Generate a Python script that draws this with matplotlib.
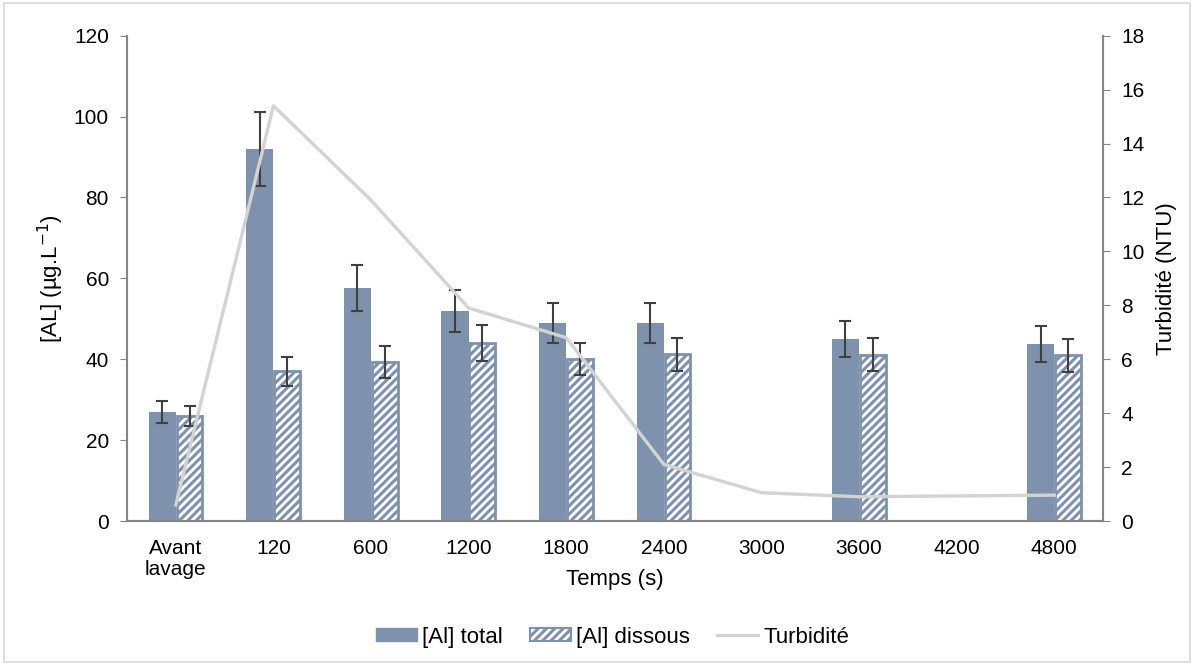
import numpy as np
import matplotlib
matplotlib.use("Agg")
import matplotlib.pyplot as plt
from matplotlib.patches import Rectangle
from matplotlib.lines import Line2D

plt.rcParams['font.family'] = ['Liberation Sans', 'DejaVu Sans']
plt.rcParams['hatch.linewidth'] = 2.2

# Data
categories = ["Avant\nlavage", "120", "600", "1200", "1800", "2400", "3000", "3600", "4200", "4800"]
al_total = [27, 92, 57.7, 52, 49, 49, np.nan, 45, np.nan, 43.8]
al_total_err = [2.7, 9.2, 5.7, 5.2, 4.9, 4.9, np.nan, 4.5, np.nan, 4.4]
al_dissous = [26, 37, 39.3, 44, 40, 41.2, np.nan, 41.1, np.nan, 41]
al_dissous_err = [2.5, 3.6, 4.0, 4.4, 4.0, 4.1, np.nan, 4.1, np.nan, 4.1]
turbidite = [0.6, 15.4, 11.9, 7.9, 6.8, 2.1, 1.05, 0.9, 0.93, 0.96]

bar_color = "#7F92AD"
line_color = "#D3D3D3"
err_color = "#404040"
axis_color = "#868686"
tick_size = 15
label_size = 16

fig = plt.figure(figsize=(11.94, 6.66), dpi=100)
ax = fig.add_axes([0.1064, 0.2177, 0.8174, 0.7287])
ax2 = ax.twinx()

x = np.arange(len(categories))
w = 0.28

ax.bar(x - w / 2, al_total, w, color=bar_color, edgecolor=bar_color, linewidth=0, zorder=2)
ax.bar(x + w / 2, al_dissous, w * 0.95, color="white", edgecolor=bar_color,
       hatch="////", linewidth=2, zorder=2)
ax.errorbar(x - w / 2, al_total, yerr=al_total_err, fmt="none", ecolor=err_color,
            elinewidth=1.5, capsize=4.5, capthick=1.5, zorder=3)
ax.errorbar(x + w / 2, al_dissous, yerr=al_dissous_err, fmt="none", ecolor=err_color,
            elinewidth=1.5, capsize=4.5, capthick=1.5, zorder=3)

ax2.plot(x, turbidite, color=line_color, linewidth=2.4, zorder=4)

ax.set_xlim(-0.5, len(categories) - 0.5)
ax.set_ylim(0, 120)
ax.set_yticks(np.arange(0, 121, 20))
ax2.set_ylim(0, 18)
ax2.set_yticks(np.arange(0, 19, 2))

ax.set_xticks(x)
ax.set_xticklabels(categories, fontsize=tick_size, linespacing=1.1)
ax.tick_params(axis="x", length=0, pad=13)
ax.tick_params(axis="y", labelsize=tick_size, color=axis_color, length=5, direction="out", pad=8)
ax2.tick_params(axis="y", labelsize=tick_size, color=axis_color, length=5, direction="out", pad=8)

for a in (ax, ax2):
    a.spines["top"].set_visible(False)
    for s in ("left", "right", "bottom"):
        a.spines[s].set_color(axis_color)
        a.spines[s].set_linewidth(1.5)

ax.set_ylabel(r"[AL] (µg.L$^{-1}$)", fontsize=label_size, labelpad=6)
ax2.set_ylabel("Turbidité (NTU)", fontsize=label_size, labelpad=8)
ax.text(0.5, -0.1195, "Temps (s)", transform=ax.transAxes, ha="center", va="center",
        fontsize=label_size)

handles = [
    Rectangle((0, 0), 1, 1, facecolor=bar_color, edgecolor=bar_color),
    Rectangle((0, 0), 1, 1, facecolor="white", edgecolor=bar_color, hatch="////", linewidth=1.5),
    Line2D([0], [0], color=line_color, linewidth=2.4),
]
labels = ["[Al] total", "[Al] dissous", "Turbidité"]
fig.legend(handles, labels, loc="center", bbox_to_anchor=(0.513, 0.0435), ncol=3,
           frameon=False, prop={"size": label_size},
           handlelength=1.85, handleheight=0.5, handletextpad=0.25, columnspacing=1.2)

fig.patches.append(Rectangle((0.003, 0.006), 0.994, 0.99, transform=fig.transFigure,
                             fill=False, edgecolor="#D9D9D9", linewidth=1.2))

fig.savefig("out.png", dpi=100)
